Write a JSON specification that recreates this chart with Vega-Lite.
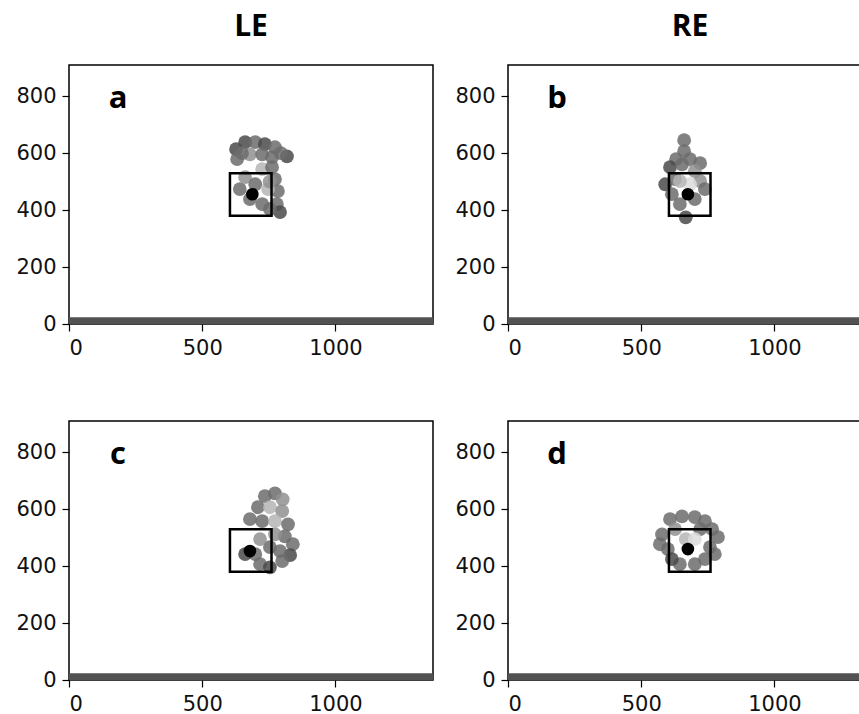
{
  "$schema": "https://vega.github.io/schema/vega-lite/v6.json",
  "background": "white",
  "padding": {"left": 15, "top": 12, "right": 0, "bottom": 5},
  "data": {"values": [
    {"eye":"LE","row":"1","kind":"band","x":0,"x2":1366,"y":0,"y2":24},
    {"eye":"RE","row":"1","kind":"band","x":0,"x2":1366,"y":0,"y2":24},
    {"eye":"LE","row":"2","kind":"band","x":0,"x2":1366,"y":0,"y2":24},
    {"eye":"RE","row":"2","kind":"band","x":0,"x2":1366,"y":0,"y2":24},
    {"eye":"LE","row":"1","kind":"box","x":604,"x2":760,"y":380,"y2":530},
    {"eye":"RE","row":"1","kind":"box","x":604,"x2":760,"y":380,"y2":530},
    {"eye":"LE","row":"2","kind":"box","x":604,"x2":760,"y":380,"y2":530},
    {"eye":"RE","row":"2","kind":"box","x":604,"x2":760,"y":380,"y2":530},
    {"eye":"LE","row":"1","kind":"fix","x":688,"y":456},
    {"eye":"RE","row":"1","kind":"fix","x":675,"y":456},
    {"eye":"LE","row":"2","kind":"fix","x":679,"y":453},
    {"eye":"RE","row":"2","kind":"fix","x":675,"y":460},
    {"eye":"LE","row":"1","kind":"label","panel":"a"},
    {"eye":"RE","row":"1","kind":"label","panel":"b"},
    {"eye":"LE","row":"2","kind":"label","panel":"c"},
    {"eye":"RE","row":"2","kind":"label","panel":"d"},

    {"eye":"LE","row":"1","kind":"pt","x":627,"y":614,"d":4},
    {"eye":"LE","row":"1","kind":"pt","x":661,"y":639,"d":4},
    {"eye":"LE","row":"1","kind":"pt","x":699,"y":639,"d":3},
    {"eye":"LE","row":"1","kind":"pt","x":735,"y":632,"d":4},
    {"eye":"LE","row":"1","kind":"pt","x":773,"y":621,"d":3},
    {"eye":"LE","row":"1","kind":"pt","x":631,"y":579,"d":3},
    {"eye":"LE","row":"1","kind":"pt","x":679,"y":596,"d":2},
    {"eye":"LE","row":"1","kind":"pt","x":725,"y":596,"d":3},
    {"eye":"LE","row":"1","kind":"pt","x":762,"y":586,"d":3},
    {"eye":"LE","row":"1","kind":"pt","x":818,"y":589,"d":4},
    {"eye":"LE","row":"1","kind":"pt","x":725,"y":544,"d":1},
    {"eye":"LE","row":"1","kind":"pt","x":762,"y":551,"d":3},
    {"eye":"LE","row":"1","kind":"pt","x":773,"y":509,"d":3},
    {"eye":"LE","row":"1","kind":"pt","x":784,"y":467,"d":3},
    {"eye":"LE","row":"1","kind":"pt","x":780,"y":421,"d":3},
    {"eye":"LE","row":"1","kind":"pt","x":792,"y":393,"d":4},
    {"eye":"LE","row":"1","kind":"pt","x":754,"y":404,"d":3},
    {"eye":"LE","row":"1","kind":"pt","x":725,"y":421,"d":3},
    {"eye":"LE","row":"1","kind":"pt","x":679,"y":439,"d":3},
    {"eye":"LE","row":"1","kind":"pt","x":641,"y":474,"d":3},
    {"eye":"LE","row":"1","kind":"pt","x":661,"y":516,"d":2},
    {"eye":"LE","row":"1","kind":"pt","x":699,"y":491,"d":3},
    {"eye":"LE","row":"1","kind":"pt","x":747,"y":474,"d":1},
    {"eye":"LE","row":"1","kind":"pt","x":649,"y":600,"d":3},
    {"eye":"LE","row":"1","kind":"pt","x":795,"y":600,"d":3},
    {"eye":"LE","row":"1","kind":"pt","x":753,"y":500,"d":2},

    {"eye":"RE","row":"1","kind":"pt","x":661,"y":646,"d":3},
    {"eye":"RE","row":"1","kind":"pt","x":661,"y":607,"d":3},
    {"eye":"RE","row":"1","kind":"pt","x":631,"y":579,"d":3},
    {"eye":"RE","row":"1","kind":"pt","x":683,"y":579,"d":3},
    {"eye":"RE","row":"1","kind":"pt","x":721,"y":565,"d":3},
    {"eye":"RE","row":"1","kind":"pt","x":608,"y":551,"d":4},
    {"eye":"RE","row":"1","kind":"pt","x":653,"y":561,"d":3},
    {"eye":"RE","row":"1","kind":"pt","x":701,"y":537,"d":2},
    {"eye":"RE","row":"1","kind":"pt","x":590,"y":491,"d":4},
    {"eye":"RE","row":"1","kind":"pt","x":627,"y":509,"d":3},
    {"eye":"RE","row":"1","kind":"pt","x":721,"y":502,"d":2},
    {"eye":"RE","row":"1","kind":"pt","x":739,"y":474,"d":3},
    {"eye":"RE","row":"1","kind":"pt","x":701,"y":439,"d":3},
    {"eye":"RE","row":"1","kind":"pt","x":645,"y":421,"d":3},
    {"eye":"RE","row":"1","kind":"pt","x":615,"y":456,"d":3},
    {"eye":"RE","row":"1","kind":"pt","x":667,"y":375,"d":4},
    {"eye":"RE","row":"1","kind":"pt","x":683,"y":491,"d":0},
    {"eye":"RE","row":"1","kind":"pt","x":645,"y":502,"d":1},

    {"eye":"LE","row":"2","kind":"pt","x":735,"y":646,"d":3},
    {"eye":"LE","row":"2","kind":"pt","x":773,"y":656,"d":3},
    {"eye":"LE","row":"2","kind":"pt","x":802,"y":635,"d":2},
    {"eye":"LE","row":"2","kind":"pt","x":709,"y":607,"d":3},
    {"eye":"LE","row":"2","kind":"pt","x":754,"y":607,"d":1},
    {"eye":"LE","row":"2","kind":"pt","x":800,"y":593,"d":2},
    {"eye":"LE","row":"2","kind":"pt","x":679,"y":565,"d":3},
    {"eye":"LE","row":"2","kind":"pt","x":725,"y":558,"d":3},
    {"eye":"LE","row":"2","kind":"pt","x":773,"y":558,"d":1},
    {"eye":"LE","row":"2","kind":"pt","x":822,"y":547,"d":3},
    {"eye":"LE","row":"2","kind":"pt","x":810,"y":505,"d":3},
    {"eye":"LE","row":"2","kind":"pt","x":840,"y":477,"d":3},
    {"eye":"LE","row":"2","kind":"pt","x":830,"y":439,"d":4},
    {"eye":"LE","row":"2","kind":"pt","x":792,"y":453,"d":3},
    {"eye":"LE","row":"2","kind":"pt","x":754,"y":467,"d":3},
    {"eye":"LE","row":"2","kind":"pt","x":717,"y":495,"d":2},
    {"eye":"LE","row":"2","kind":"pt","x":699,"y":442,"d":3},
    {"eye":"LE","row":"2","kind":"pt","x":717,"y":407,"d":3},
    {"eye":"LE","row":"2","kind":"pt","x":754,"y":396,"d":4},
    {"eye":"LE","row":"2","kind":"pt","x":800,"y":418,"d":3},
    {"eye":"LE","row":"2","kind":"pt","x":661,"y":442,"d":4},
    {"eye":"LE","row":"2","kind":"pt","x":773,"y":512,"d":2},

    {"eye":"RE","row":"2","kind":"pt","x":608,"y":565,"d":3},
    {"eye":"RE","row":"2","kind":"pt","x":653,"y":575,"d":3},
    {"eye":"RE","row":"2","kind":"pt","x":701,"y":572,"d":3},
    {"eye":"RE","row":"2","kind":"pt","x":739,"y":558,"d":3},
    {"eye":"RE","row":"2","kind":"pt","x":578,"y":512,"d":3},
    {"eye":"RE","row":"2","kind":"pt","x":627,"y":530,"d":2},
    {"eye":"RE","row":"2","kind":"pt","x":721,"y":530,"d":3},
    {"eye":"RE","row":"2","kind":"pt","x":766,"y":530,"d":3},
    {"eye":"RE","row":"2","kind":"pt","x":788,"y":502,"d":3},
    {"eye":"RE","row":"2","kind":"pt","x":570,"y":477,"d":3},
    {"eye":"RE","row":"2","kind":"pt","x":600,"y":460,"d":3},
    {"eye":"RE","row":"2","kind":"pt","x":758,"y":467,"d":3},
    {"eye":"RE","row":"2","kind":"pt","x":776,"y":442,"d":3},
    {"eye":"RE","row":"2","kind":"pt","x":739,"y":425,"d":3},
    {"eye":"RE","row":"2","kind":"pt","x":701,"y":407,"d":3},
    {"eye":"RE","row":"2","kind":"pt","x":645,"y":407,"d":3},
    {"eye":"RE","row":"2","kind":"pt","x":615,"y":425,"d":4},
    {"eye":"RE","row":"2","kind":"pt","x":667,"y":495,"d":1},
    {"eye":"RE","row":"2","kind":"pt","x":701,"y":495,"d":0}
  ]},
  "facet": {
    "column": {"field": "eye", "type": "nominal", "sort": ["LE", "RE"], "title": null,
      "header": {"labelFont": "Open Sans", "labelFontSize": 30, "labelFontWeight": "bold", "labelColor": "black", "labelPadding": 23}},
    "row": {"field": "row", "type": "nominal", "title": null, "header": {"labels": false}}
  },
  "spacing": {"row": 97, "column": 75},
  "bounds": "flush",
  "resolve": {"axis": {"x": "independent", "y": "independent"}},
  "spec": {
    "width": 364,
    "height": 259,
    "layer": [
      {
        "transform": [{"filter": "datum.kind === 'band'"}],
        "mark": {"type": "rect", "color": "#525252"},
        "encoding": {
          "x": {"field": "x", "type": "quantitative", "scale": {"domain": [0, 1366], "nice": false},
            "axis": {"values": [0, 500, 1000], "format": "d", "title": null}},
          "x2": {"field": "x2"},
          "y": {"field": "y", "type": "quantitative", "scale": {"domain": [0, 910], "nice": false},
            "axis": {"values": [0, 200, 400, 600, 800], "format": "d", "title": null}},
          "y2": {"field": "y2"}
        }
      },
      {
        "transform": [{"filter": "datum.kind === 'pt'"}],
        "mark": {"type": "circle", "size": 190, "opacity": 0.85},
        "encoding": {
          "x": {"field": "x", "type": "quantitative"},
          "y": {"field": "y", "type": "quantitative"},
          "color": {"field": "d", "type": "quantitative", "scale": {"domain": [0, 4], "range": ["#dcdcdc", "#4a4a4a"]}, "legend": null}
        }
      },
      {
        "transform": [{"filter": "datum.kind === 'box'"}],
        "mark": {"type": "rect", "fillOpacity": 0, "stroke": "black", "strokeWidth": 2.5},
        "encoding": {
          "x": {"field": "x", "type": "quantitative"},
          "x2": {"field": "x2"},
          "y": {"field": "y", "type": "quantitative"},
          "y2": {"field": "y2"}
        }
      },
      {
        "transform": [{"filter": "datum.kind === 'fix'"}],
        "mark": {"type": "circle", "size": 160, "opacity": 1, "color": "black"},
        "encoding": {
          "x": {"field": "x", "type": "quantitative"},
          "y": {"field": "y", "type": "quantitative"}
        }
      },
      {
        "transform": [{"filter": "datum.kind === 'label'"}],
        "mark": {"type": "text", "font": "Open Sans", "fontSize": 31, "fontWeight": "bold", "color": "black", "align": "center", "baseline": "middle"},
        "encoding": {
          "x": {"datum": 184},
          "y": {"datum": 790},
          "text": {"field": "panel"}
        }
      }
    ]
  },
  "config": {
    "view": {"stroke": "black", "strokeWidth": 1.5},
    "axis": {"domain": false, "grid": false, "ticks": true, "tickColor": "black", "tickSize": 7, "tickWidth": 1.2,
      "labelFont": "DejaVu Sans", "labelFontSize": 21, "labelColor": "#111111", "labelPadding": 6}
  }
}
